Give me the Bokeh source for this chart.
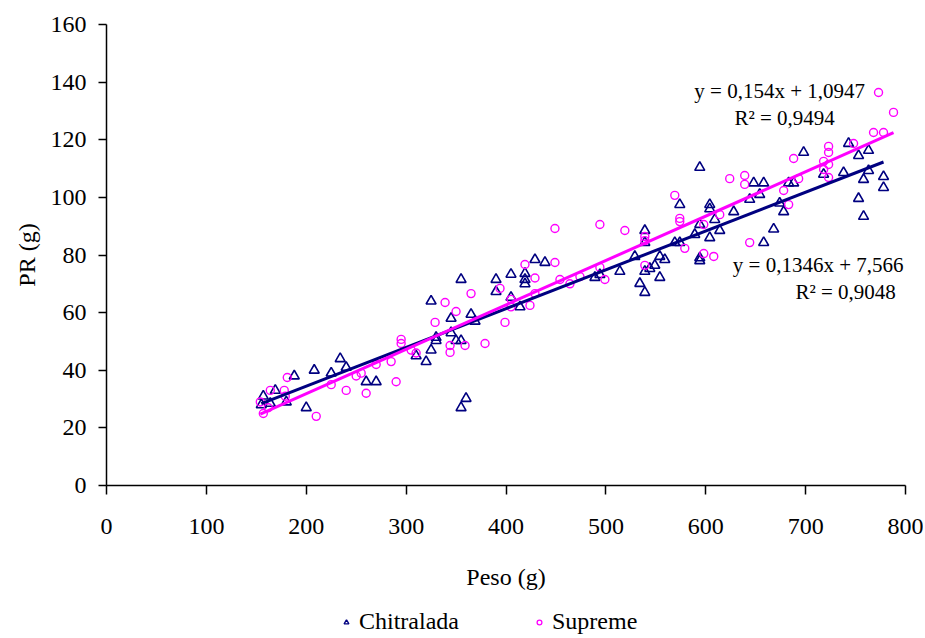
from bokeh.plotting import figure
from bokeh.layouts import column
from bokeh.models import Range1d, FixedTicker, Label, Legend, LegendItem
from bokeh.embed import file_html
from bokeh.resources import INLINE

# ---- data ----
chit_x = [155, 157, 164, 169, 180, 188, 200, 208, 225, 234, 240, 260, 270, 310, 320, 325,
          330, 330, 325, 345, 345, 350, 355, 355, 365, 369, 360, 355, 390, 390, 405, 405,
          414, 419, 419, 419, 429, 439, 489, 494, 514, 529, 534, 539, 539, 539, 539, 544,
          549, 554, 554, 559, 569, 574, 574, 589, 594, 594, 594, 594, 604, 604, 604, 609,
          614, 628, 644, 648, 654, 658, 658, 668, 678, 674, 683, 688, 698, 718, 738, 743,
          753, 763, 758, 763, 753, 758, 778, 778]
chit_y = [28, 31, 28.5, 33, 29, 38, 27, 40, 39, 44, 41, 36, 36, 45, 43, 47,
          50.3, 51.4, 64, 58, 53, 50.3, 50.3, 71.5, 59.4, 57, 30.2, 27, 71.5, 67.3, 73.3, 65.3,
          62, 73.6, 71.5, 70, 78.4, 77.4, 72.2, 73.2, 74.3, 79.5, 70.1, 67, 74.3, 88.5, 84.3, 75.3,
          76.4, 72.2, 79.5, 78.4, 84.3, 84.3, 97.5, 87.1, 110.4, 90.6, 79, 78, 86, 97.5, 96, 92.3,
          88.5, 95, 99.3, 105, 101, 105, 84.3, 89, 95, 98, 105, 105, 115.6, 108, 108.6, 118.7,
          114.5, 116.3, 106.2, 109.3, 99.6, 93.4, 107.2, 103.4]

sup_x = [154, 157, 162, 164, 178, 179, 181, 210, 225, 240, 250, 255, 260, 270, 285, 290,
         295, 295, 305, 310, 329, 339, 344, 344, 350, 359, 365, 379, 394, 399, 405, 405,
         419, 424, 429, 429, 449, 449, 454, 464, 474, 494, 494, 499, 519, 539, 539, 539,
         569, 574, 574, 579, 598, 598, 608, 614, 624, 639, 639, 644, 678, 683, 688, 693,
         718, 718, 723, 723, 723, 723, 748, 768, 773, 778, 788]
sup_y = [29, 25, 27, 33, 33, 31, 37.5, 24, 35, 33, 38, 39, 32, 42, 43, 36,
         50.7, 49.3, 47, 46, 56.6, 63.5, 48.6, 46.2, 60.4, 48.6, 66.6, 49.3, 68.4, 56.6, 64.6, 62,
         76.7, 62.5, 66.6, 72, 89.2, 77.4, 71.5, 70, 72.5, 90.6, 75.7, 71.5, 88.5, 86.4, 85, 76.4,
         100.7, 92.7, 91.6, 82.3, 90.6, 80.5, 79.5, 94, 106.5, 107.6, 104.5, 84.3, 102.4, 97.5, 113.5, 106.5,
         112.5, 109.7, 117.7, 115.6, 111.4, 106.9, 118.7, 122.5, 136.4, 122.5, 129.5]

# trend line coefficients shown on the chart
chit_slope, chit_icpt = 0.1346, 7.566
sup_slope, sup_icpt = 0.154, 1.0947

x_ticks = [0, 100, 200, 300, 400, 500, 600, 700, 800]
y_ticks = [0, 20, 40, 60, 80, 100, 120, 140, 160]

series_names = ["Chitralada", "Supreme"]
eq_texts = ["y = 0,154x + 1,0947", "R\u00b2 = 0,9494", "y = 0,1346x + 7,566", "R\u00b2 = 0,9048"]

FONT = "Liberation Serif"
NAVY = "#000080"
MAGENTA = "#FF00FF"

p = figure(frame_width=799, frame_height=461, output_backend="svg", toolbar_location=None,
           x_range=Range1d(0, 800), y_range=Range1d(0, 160),
           min_border_left=106, min_border_right=18, min_border_top=24, min_border_bottom=115,
           background_fill_color="white", border_fill_color="white")
p.outline_line_color = None
p.xgrid.visible = False
p.ygrid.visible = False

for ax in (p.xaxis[0], p.yaxis[0]):
    ax.major_label_text_font = FONT
    ax.major_label_text_font_size = "24px"
    ax.major_label_text_color = "black"
    ax.axis_label_text_font = FONT
    ax.axis_label_text_font_size = "24px"
    ax.axis_label_text_font_style = "normal"
    ax.axis_label_text_color = "black"
    ax.axis_line_color = "black"
    ax.axis_line_width = 1.5
    ax.major_tick_line_color = "black"
    ax.major_tick_line_width = 1.5
    ax.major_tick_in = 0
    ax.minor_tick_line_color = None

p.xaxis.ticker = FixedTicker(ticks=x_ticks)
p.yaxis.ticker = FixedTicker(ticks=y_ticks)
p.xaxis.major_tick_out = 9
p.yaxis.major_tick_out = 8
p.xaxis.major_label_standoff = 24
p.yaxis.major_label_standoff = 12
p.xaxis.axis_label = "Peso (g)"
p.yaxis.axis_label = "PR (g)"
p.xaxis.axis_label_standoff = 27
p.yaxis.axis_label_standoff = 8

p.scatter(chit_x, chit_y, marker="triangle", size=10, fill_color=None,
          line_color=NAVY, line_width=1.6)
p.scatter(sup_x, sup_y, marker="circle", size=8, fill_color=None,
          line_color=MAGENTA, line_width=1.4)

cx = [min(chit_x), max(chit_x)]
sx = [min(sup_x), max(sup_x)]
p.line(cx, [chit_slope * v + chit_icpt for v in cx], line_color=NAVY, line_width=3)
p.line(sx, [sup_slope * v + sup_icpt for v in sx], line_color=MAGENTA, line_width=3)

eq_pos = [(674, 137, "center"), (679, 127.7, "center"), (798, 76.7, "right"), (740, 67, "center")]
for t, (ex, ey, al) in zip(eq_texts, eq_pos):
    p.add_layout(Label(x=ex, y=ey, text=t, text_font=FONT, text_font_size="21px",
                       text_color="black", text_align=al, text_baseline="middle"))

# ---- legend strip below the chart (legend-only renderers sit outside its range) ----
p2 = figure(frame_width=923, frame_height=36, output_backend="svg", toolbar_location=None,
            x_range=Range1d(0, 1), y_range=Range1d(0, 1),
            x_axis_location=None, y_axis_location=None, min_border=0,
            background_fill_color="white", border_fill_color="white")
p2.outline_line_color = None
p2.xgrid.visible = False
p2.ygrid.visible = False
lg_chit = p2.scatter(x=[5], y=[5], marker="triangle", size=8, fill_color=None,
                     line_color=NAVY, line_width=1.4)
lg_sup = p2.scatter(x=[5], y=[5], marker="circle", size=7, fill_color=None,
                    line_color=MAGENTA, line_width=1.3)
legend = Legend(items=[LegendItem(label=series_names[0], renderers=[lg_chit]),
                       LegendItem(label=series_names[1], renderers=[lg_sup])],
                location=(340, 1), orientation="horizontal",
                label_text_font=FONT, label_text_font_size="24px", label_text_color="black",
                glyph_width=12, glyph_height=26, label_height=26, label_standoff=7, spacing=74,
                padding=0, margin=0, border_line_color=None, background_fill_alpha=0)
p2.add_layout(legend, "center")

open("out.html", "w").write(file_html(column(p, p2, spacing=0), INLINE))
